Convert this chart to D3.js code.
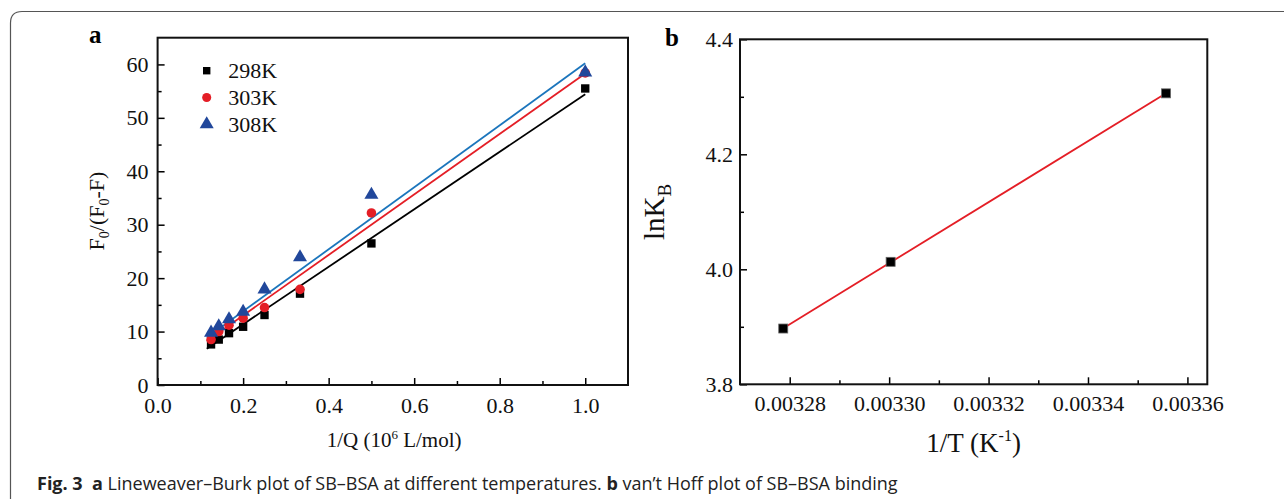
<!DOCTYPE html>
<html>
<head>
<meta charset="utf-8">
<script src="https://cdn.jsdelivr.net/npm/d3@7"></script>
<style>
  body { margin: 0; background: #fff; }
  svg { display: block; }
  .tick text { font-family: "Liberation Serif", "Times New Roman", serif; font-size: 22px; fill: #111; }
  .domain { display: none; }
</style>
</head>
<body>
<svg id="chart" width="1284" height="499"></svg>
<script>
// panel a: Lineweaver-Burk data
const invQ = [0.125, 0.143, 0.167, 0.2, 0.25, 0.333, 0.5, 1.0];
const f298 = [7.6, 8.5, 9.7, 10.9, 13.1, 17.1, 26.5, 55.5];
const f303 = [8.5, 10.0, 11.2, 12.5, 14.5, 17.9, 32.2, 58.4];
const f308 = [9.8, 11.0, 12.3, 13.7, 17.9, 23.9, 35.6, 58.5];
const temps = ["298K", "303K", "308K"];
const fitSlope = [53.8, 56.6, 58.0];
const fitIntercept = [0.6, 1.7, 2.2];
const fitRange = [0.115, 1.0];

// panel b: van't Hoff data
const invT = [0.0032787, 0.0033003, 0.0033557];
const lnKB = [3.897, 4.013, 4.306];

const xTicksA = [0, 0.2, 0.4, 0.6, 0.8, 1.0];
const xMinorA = [0.1, 0.3, 0.5, 0.7, 0.9];
const yTicksA = [0, 10, 20, 30, 40, 50, 60];
const yMinorA = [5, 15, 25, 35, 45, 55];
const xTicksB = [0.00328, 0.00330, 0.00332, 0.00334, 0.00336];
const xMinorB = [0.00329, 0.00331, 0.00333, 0.00335];
const yTicksB = [3.8, 4.0, 4.2, 4.4];
const yMinorB = [3.9, 4.1, 4.3];

const pointColor = ["#000000", "#e41e26", "#21479b"];
const lineColor = ["#000000", "#e41e26", "#1b75bc"];
const serif = '"Liberation Serif", "Times New Roman", serif';

const svg = d3.select("#chart");

// outer figure border (left + top, rounded corner)
svg.append("path")
  .attr("d", "M10.5,499 L10.5,23 Q10.5,11.5 22,11.5 L1284,11.5")
  .attr("fill", "none")
  .attr("stroke", "#555")
  .attr("stroke-width", 1.2);

// ---------- panel a ----------
const xA = d3.scaleLinear().domain([0, 1.1]).range([157.6, 628]);
const yA = d3.scaleLinear().domain([0, 65]).range([385, 37.7]);

const gA = svg.append("g");

gA.append("g")
  .attr("transform", "translate(0," + yA(0) + ")")
  .call(d3.axisBottom(xA).tickValues(xTicksA).tickFormat(d3.format(".1f")).tickSize(-7).tickPadding(12))
  .call(g => g.selectAll(".tick line").attr("stroke-width", 1.5));
gA.append("g")
  .attr("transform", "translate(0," + yA(0) + ")")
  .call(d3.axisBottom(xA).tickValues(xMinorA).tickFormat("").tickSize(-4))
  .call(g => g.selectAll(".tick line").attr("stroke-width", 1.5));
gA.append("g")
  .attr("transform", "translate(" + xA(0) + ",0)")
  .call(d3.axisLeft(yA).tickValues(yTicksA).tickSize(-7).tickPadding(9))
  .call(g => g.selectAll(".tick line").attr("stroke-width", 1.5));
gA.append("g")
  .attr("transform", "translate(" + xA(0) + ",0)")
  .call(d3.axisLeft(yA).tickValues(yMinorA).tickFormat("").tickSize(-4))
  .call(g => g.selectAll(".tick line").attr("stroke-width", 1.5));

gA.append("rect")
  .attr("x", xA(0)).attr("y", yA(65))
  .attr("width", xA(1.1) - xA(0)).attr("height", yA(0) - yA(65))
  .attr("fill", "none").attr("stroke", "#111").attr("stroke-width", 2);

// fitted lines
temps.forEach(function (t, i) {
  gA.append("line")
    .attr("x1", xA(fitRange[0]))
    .attr("y1", yA(fitIntercept[i] + fitSlope[i] * fitRange[0]))
    .attr("x2", xA(fitRange[1]))
    .attr("y2", yA(fitIntercept[i] + fitSlope[i] * fitRange[1]))
    .attr("stroke", lineColor[i])
    .attr("stroke-width", 1.8);
});

const seriesA = [f298, f303, f308];
const symbols = [d3.symbolSquare, d3.symbolCircle, d3.symbolTriangle];
const symSize = [70, 72, 85];

seriesA.forEach(function (vals, i) {
  gA.append("g").selectAll("path")
    .data(vals)
    .join("path")
    .attr("transform", (d, j) => "translate(" + xA(invQ[j]) + "," + yA(d) + ")")
    .attr("d", d3.symbol().type(symbols[i]).size(symSize[i]))
    .attr("fill", pointColor[i]);
});

// legend
const legend = gA.append("g").attr("transform", "translate(206.7,70.7)");
temps.forEach(function (t, i) {
  const row = legend.append("g").attr("transform", "translate(0," + i * 26.8 + ")");
  row.append("path")
    .attr("d", d3.symbol().type(symbols[i]).size(i == 0 ? 55 : i == 1 ? 65 : 85))
    .attr("fill", pointColor[i]);
  row.append("text")
    .attr("x", 21.5).attr("y", 7.5)
    .attr("font-family", serif).attr("font-size", 22)
    .attr("fill", "#111")
    .text(t);
});

// axis labels a
gA.append("text")
  .attr("x", 89).attr("y", 43)
  .attr("font-family", serif).attr("font-size", 25).attr("font-weight", "bold")
  .text("a");

const ylabA = gA.append("text")
  .attr("transform", "translate(104,211) rotate(-90)")
  .attr("text-anchor", "middle")
  .attr("font-family", serif).attr("font-size", 22).attr("fill", "#111");
ylabA.append("tspan").text("F");
ylabA.append("tspan").attr("font-size", 14).attr("dy", 5).text("0");
ylabA.append("tspan").attr("dy", -5).text("/(F");
ylabA.append("tspan").attr("font-size", 14).attr("dy", 5).text("0");
ylabA.append("tspan").attr("dy", -5).text("-F)");

const xlabA = gA.append("text")
  .attr("x", xA(0.553)).attr("y", 447)
  .attr("text-anchor", "middle")
  .attr("font-family", serif).attr("font-size", 21).attr("fill", "#111");
xlabA.append("tspan").text("1/Q (10");
xlabA.append("tspan").attr("font-size", 13).attr("dy", -8).text("6");
xlabA.append("tspan").attr("dy", 8).text(" L/mol)");

// ---------- panel b ----------
const xB = d3.scaleLinear().domain([0.00327, 0.003364]).range([740, 1207.3]);
const yB = d3.scaleLinear().domain([3.8, 4.4]).range([384.3, 39.3]);

const gB = svg.append("g");

gB.append("g")
  .attr("transform", "translate(0," + yB(3.8) + ")")
  .call(d3.axisBottom(xB).tickValues(xTicksB).tickFormat(d3.format(".5f")).tickSize(-7).tickPadding(11))
  .call(g => g.selectAll(".tick line").attr("stroke-width", 1.5));
gB.append("g")
  .attr("transform", "translate(0," + yB(3.8) + ")")
  .call(d3.axisBottom(xB).tickValues(xMinorB).tickFormat("").tickSize(-4))
  .call(g => g.selectAll(".tick line").attr("stroke-width", 1.5));
gB.append("g")
  .attr("transform", "translate(" + xB(0.00327) + ",0)")
  .call(d3.axisLeft(yB).tickValues(yTicksB).tickFormat(d3.format(".1f")).tickSize(-7).tickPadding(7))
  .call(g => g.selectAll(".tick line").attr("stroke-width", 1.5));
gB.append("g")
  .attr("transform", "translate(" + xB(0.00327) + ",0)")
  .call(d3.axisLeft(yB).tickValues(yMinorB).tickFormat("").tickSize(-4))
  .call(g => g.selectAll(".tick line").attr("stroke-width", 1.5));

gB.append("rect")
  .attr("x", xB(0.00327)).attr("y", yB(4.4))
  .attr("width", xB(0.003364) - xB(0.00327)).attr("height", yB(3.8) - yB(4.4))
  .attr("fill", "none").attr("stroke", "#111").attr("stroke-width", 2);

// linear fit of lnKB vs 1/T
const mx = d3.mean(invT), my = d3.mean(lnKB);
const slopeB = d3.sum(invT, (x, i) => (x - mx) * (lnKB[i] - my)) / d3.sum(invT, x => (x - mx) * (x - mx));
const interB = my - slopeB * mx;
const xExt = d3.extent(invT);
gB.append("line")
  .attr("x1", xB(xExt[0])).attr("y1", yB(interB + slopeB * xExt[0]))
  .attr("x2", xB(xExt[1])).attr("y2", yB(interB + slopeB * xExt[1]))
  .attr("stroke", "#e41e26").attr("stroke-width", 1.8);

gB.append("g").selectAll("rect")
  .data(lnKB)
  .join("rect")
  .attr("x", (d, i) => xB(invT[i]) - 4.5)
  .attr("y", d => yB(d) - 4.5)
  .attr("width", 9).attr("height", 9)
  .attr("fill", "#000").attr("stroke", "#666").attr("stroke-width", 0.8);

gB.append("text")
  .attr("x", 665).attr("y", 46)
  .attr("font-family", serif).attr("font-size", 25).attr("font-weight", "bold")
  .text("b");

const ylabB = gB.append("text")
  .attr("transform", "translate(664,212) rotate(-90)")
  .attr("text-anchor", "middle")
  .attr("font-family", serif).attr("font-size", 29).attr("fill", "#111");
ylabB.append("tspan").text("lnK");
ylabB.append("tspan").attr("font-size", 19).attr("dy", 7).text("B");

const xlabB = gB.append("text")
  .attr("x", xB(0.003317)).attr("y", 452)
  .attr("text-anchor", "middle")
  .attr("font-family", serif).attr("font-size", 27).attr("fill", "#111");
xlabB.append("tspan").text("1/T (K");
xlabB.append("tspan").attr("font-size", 16).attr("dy", -11).text("-1");
xlabB.append("tspan").attr("dy", 11).text(")");

// caption
const cap = svg.append("text")
  .attr("x", 37).attr("y", 490)
  .attr("font-family", '"Open Sans", "Noto Sans", sans-serif')
  .attr("font-size", 18).attr("fill", "#222");
cap.append("tspan").attr("font-weight", "bold").text("Fig. 3");
cap.append("tspan").text("\u00a0 ");
cap.append("tspan").attr("font-weight", "bold").text("a");
cap.append("tspan").text(" Lineweaver\u2013Burk plot of SB\u2013BSA at different temperatures. ");
cap.append("tspan").attr("font-weight", "bold").text("b");
cap.append("tspan").text(" van\u2019t Hoff plot of SB\u2013BSA binding");
</script>
</body>
</html>
